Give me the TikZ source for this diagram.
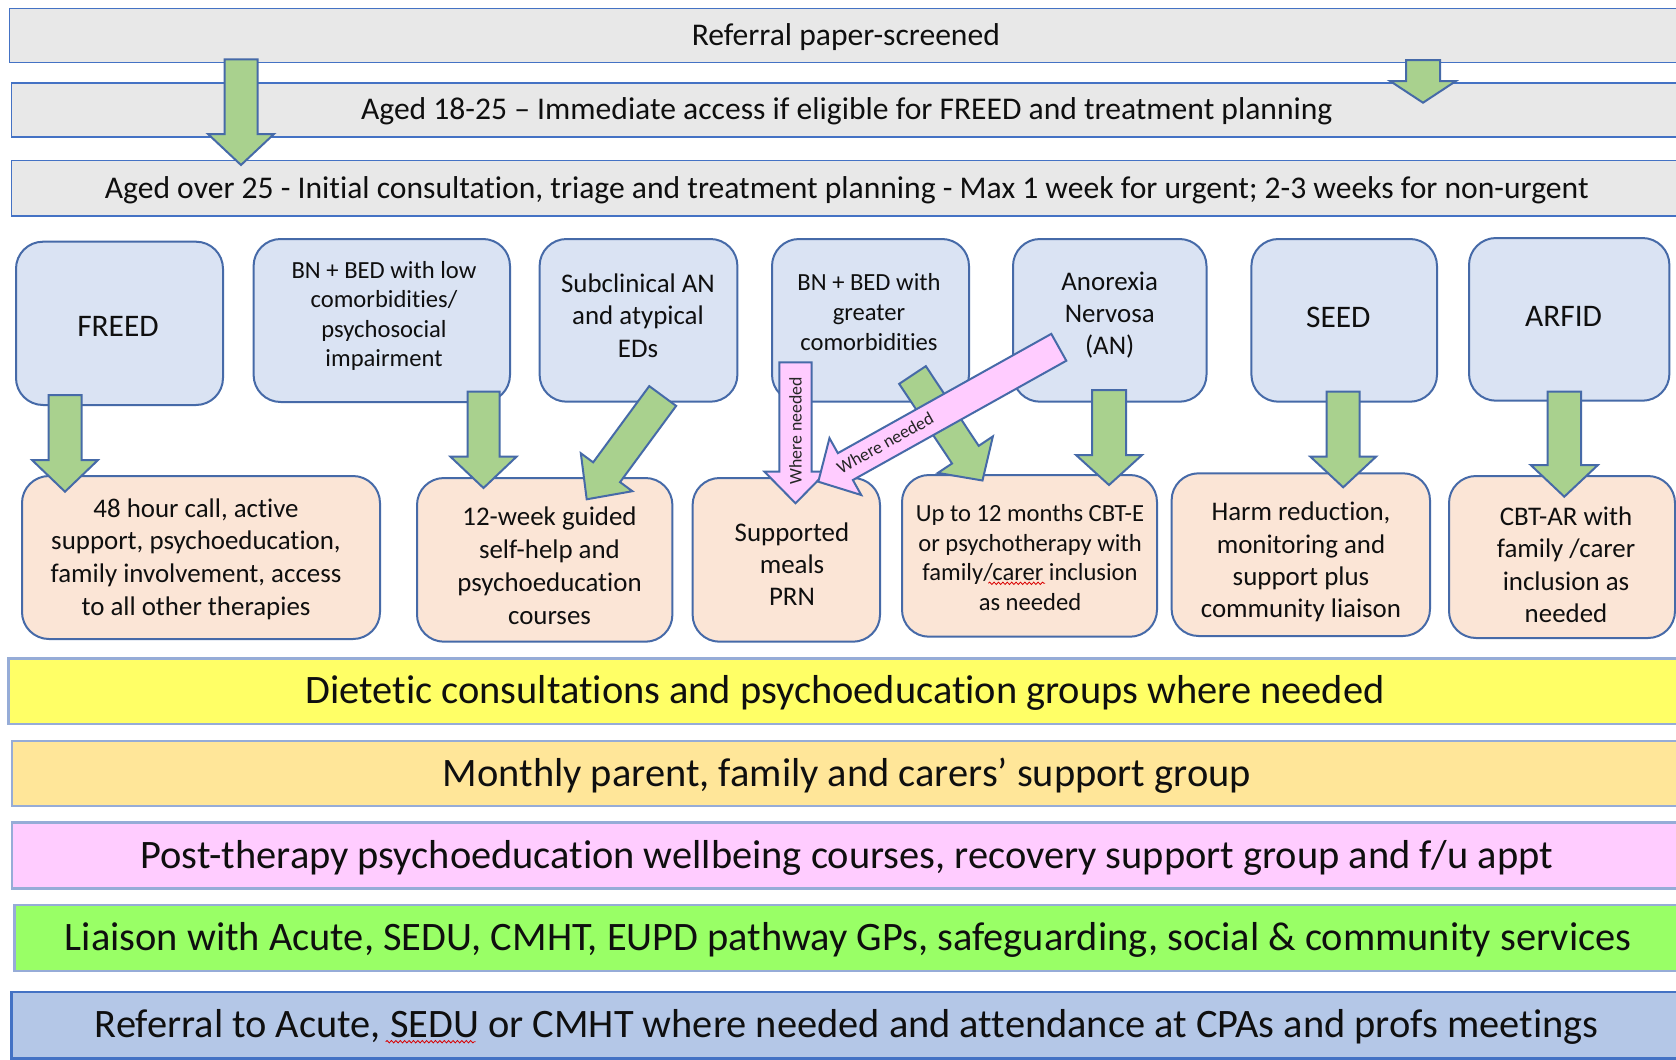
\documentclass[tikz,border=0pt]{standalone}
\usepackage{fontspec}
\setmainfont{Carlito}[Ligatures={NoCommon,NoContextual,NoRare}, RawFeature={-liga;-clig;-calt;-dlig}]
\usetikzlibrary{calc,fit,decorations.pathmorphing}
\definecolor{bord}{RGB}{70,106,168}
\definecolor{barblue}{RGB}{68,114,196}
\definecolor{barfill}{RGB}{232,232,232}
\definecolor{boxblue}{RGB}{218,227,243}
\definecolor{peach}{RGB}{251,229,214}
\definecolor{garrow}{RGB}{169,209,142}
\definecolor{pinkc}{RGB}{255,204,255}
\definecolor{lbord}{RGB}{150,172,215}
\definecolor{ybar}{RGB}{255,255,102}
\definecolor{obar}{RGB}{255,230,153}
\definecolor{pbar}{RGB}{255,204,255}
\definecolor{gbarc}{RGB}{153,255,102}
\definecolor{bbar}{RGB}{180,199,231}
\definecolor{txtc}{RGB}{15,15,15}
\newcommand\blockarrow[6]{%
  \coordinate (#2-#3-base) at ($(#3)!#6!(#2)$);
  \draw[#1] ($(#2)!#4!90:(#3)$) -- ($(#2-#3-base)!#4!90:(#3)$) -- ($(#2-#3-base)!#5!90:(#3)$) -- (#3) -- ($(#2-#3-base)!#5!-90:(#3)$) -- ($(#2-#3-base)!#4!-90:(#3)$) -- ($(#2)!#4!-90:(#3)$) -- cycle;}
\begin{document}
\begin{tikzpicture}[x=0.5pt,y=-0.5pt,
  gbar/.style={draw=barblue, line width=0.75pt, fill=barfill, inner sep=0pt},
  rbox/.style={draw=bord, line width=1pt, rounded corners=13.5pt, inner sep=0pt},
  bluebox/.style={rbox, fill=boxblue},
  peachbox/.style={rbox, fill=peach},
  lbar/.style={draw=lbord, line width=1.2pt, inner sep=0pt},
  txt/.style={inner sep=0pt, align=center, text=txtc},
  s11/.style={txt, font=\fontsize{12.3}{14.9}\selectfont},
  s12/.style={txt, font=\fontsize{13.45}{16.3}\selectfont},
  s14/.style={txt, font=\fontsize{15.7}{19}\selectfont},
  bartxt/.style={txt, font=\fontsize{15.8}{19}\selectfont, text height=9.98pt, text depth=0pt},
  bigtxt/.style={txt, font=\fontsize{20.2}{24}\selectfont, text height=12.77pt, text depth=0pt},
  wn/.style={txt, font=\fontsize{8.9}{10}\selectfont, text=black!85},
  greenarrow/.style={draw=bord, line width=1pt, fill=garrow},
  pinkarrow/.style={draw=bord, line width=1pt, fill=pinkc},
  squig/.style={draw=red!85!black, line width=0.4pt, decorate, decoration={snake, amplitude=0.6pt, segment length=2.2pt}}
]
\clip (0,0) rectangle (1676,1060);
\fill[white] (0,0) rectangle (1676,1060);

% top bars
\node[gbar, fit={(9.6,8.3)(1682,62.3)}] (bar1) {};
\node[bartxt] (bar1t) at (bar1.center) {Referral paper-screened};
\node[gbar, fit={(11.5,83)(1682,137)}] (bar2) {};
\node[bartxt] (bar2t) at (bar2.center) {Aged 18-25 – Immediate access if eligible for FREED and treatment planning};
\node[gbar, fit={(11.5,160.7)(1682,216)}] (bar3) {};
\node[bartxt] (bar3t) at (bar3.center) {Aged over 25 - Initial consultation, triage and treatment planning - Max 1 week for urgent; 2-3 weeks for non-urgent};

% blue boxes
\node[bluebox, fit={(16,241.7)(223,405)}] (freed) {};
\node[s14] (freedt) at (118,326.7) {FREED};
\node[bluebox, fit={(253.6,239)(510,402)}] (bnlow) {};
\node[s11, font=\fontsize{12.3}{14.8}\selectfont] (bnlowt) at (384,316) {BN + BED with low\\comorbidities/\\psychosocial\\impairment};
\node[bluebox, fit={(539.6,239)(737.4,401.7)}] (subcl) {};
\node[s12] (subclt) at (638,315.7) {Subclinical AN\\and atypical\\EDs};
\node[bluebox, fit={(772,239)(969,401.7)}] (bngr) {};
\node[s11, font=\fontsize{12.3}{15}\selectfont] (bngrt) at (869,312) {BN + BED with\\greater\\comorbidities};
\node[bluebox, fit={(1013,239)(1206.5,401.7)}] (anor) {};
\node[s12, font=\fontsize{13.45}{16}\selectfont] (anort) at (1109.7,315) {Anorexia\\Nervosa\\(AN)};
\node[bluebox, fit={(1251.4,239)(1437,401.7)}] (seed) {};
\node[s14] (seedt) at (1338.3,317) {SEED};
\node[bluebox, fit={(1469,238)(1669.4,400.7)}] (arfid) {};
\node[s14] (arfidt) at (1563.6,316) {ARFID};

% peach boxes
\node[peachbox, fit={(22,476)(380,639)}] (b48) {};
\node[s12, font=\fontsize{13.45}{16.35}\selectfont] (b48t) at (196,559) {48 hour call, active\\support, psychoeducation,\\family involvement, access\\to all other therapies};
\node[peachbox, fit={(417,478)(672.4,641.7)}] (b12) {};
\node[s12, font=\fontsize{13.45}{16.5}\selectfont] (b12t) at (549.5,566.2) {12-week guided\\self-help and\\psychoeducation\\courses};
\node[peachbox, fit={(692.6,478)(880,641.7)}] (meal) {};
\node[s12, font=\fontsize{13.45}{16}\selectfont] (mealt) at (792,564.5) {Supported\\meals\\PRN};
\node[peachbox, fit={(902,475)(1157,636.7)}] (up12) {};
\node[s11, font=\fontsize{12.3}{14.85}\selectfont] (up12t) at (1030,557.6) {Up to 12 months CBT-E\\or psychotherapy with\\family/carer inclusion\\as needed};
\node[peachbox, fit={(1171.6,473.3)(1430,636)}] (harm) {};
\node[s12, font=\fontsize{13.45}{16.1}\selectfont] (harmt) at (1301,562) {Harm reduction,\\monitoring and\\support plus\\community liaison};
\node[peachbox, fit={(1449,476)(1675,638)}] (cbt) {};
\node[s12, font=\fontsize{13.45}{16.2}\selectfont] (cbtt) at (1566,564.6) {CBT-AR with\\family /carer\\inclusion as\\needed};

% arrow ends
\coordinate (t1s) at (241,59.3);   \coordinate (t1e) at (241,165);
\coordinate (t2s) at (1423,60);    \coordinate (t2e) at (1423,102.7);
\coordinate (fs) at (65,395);      \coordinate (fe) at (65,491.7);
\coordinate (ls) at (483.5,391.7); \coordinate (le) at (483.5,488);
\coordinate (ss) at (662.7,396);   \coordinate (se) at (586.7,499.3);
\coordinate (gs) at (912.5,375);   \coordinate (ge) at (982.5,480.5);
\coordinate (as) at (1109,390);    \coordinate (ae) at (1109,485);
\coordinate (es) at (1343.2,391.7);\coordinate (ee) at (1343.2,487.3);
\coordinate (rs) at (1564.3,391.7);\coordinate (re) at (1564.3,496.7);
\coordinate (pvs) at (795.5,362.3);\coordinate (pve) at (795.5,503.3);
\coordinate (pds) at (1058.8,347.3);\coordinate (pde) at (818.3,481.7);

\blockarrow{greenarrow}{t1s}{t1e}{8.25pt}{16.5pt}{15.5pt}
\blockarrow{greenarrow}{t2s}{t2e}{8.5pt}{16.5pt}{10.85pt}
\blockarrow{greenarrow}{fs}{fe}{8.25pt}{16.5pt}{15.85pt}
\blockarrow{greenarrow}{ls}{le}{8pt}{16.5pt}{15.65pt}
\blockarrow{greenarrow}{ss}{se}{8.35pt}{16pt}{16.8pt}
\blockarrow{greenarrow}{gs}{ge}{8pt}{16.5pt}{15.5pt}
\blockarrow{greenarrow}{as}{ae}{8.5pt}{16.5pt}{15pt}
\blockarrow{greenarrow}{es}{ee}{8.25pt}{16.4pt}{15.3pt}
\blockarrow{greenarrow}{rs}{re}{8.4pt}{16.8pt}{15.85pt}
\blockarrow{pinkarrow}{pvs}{pve}{8.1pt}{15.5pt}{15.8pt}
\blockarrow{pinkarrow}{pds}{pde}{7.7pt}{16.3pt}{15.5pt}
\node[wn, rotate=90] (pvt) at (795.5,430.8) {Where needed};
\node[wn, rotate=29.2] (pdt) at (885,443) {Where needed};

% bottom bars
\node[lbar, fill=ybar, fit={(8.3,658.3)(1682,724)}] (diet) {};
\node[bigtxt] (dietT) at (diet.center) {Dietetic consultations and psychoeducation groups where needed};
\node[lbar, fill=obar, fit={(11.7,741)(1682,805.7)}] (month) {};
\node[bigtxt] (monthT) at (month.center) {Monthly parent, family and carers’ support group};
\node[lbar, fill=pbar, fit={(11.7,822.3)(1682,888.3)}] (post) {};
\node[bigtxt] (postT) at (post.center) {Post-therapy psychoeducation wellbeing courses, recovery support group and f/u appt};
\node[lbar, fill=gbarc, fit={(14.3,905)(1682,970.7)}] (liai) {};
\node[bigtxt] (liaiT) at (liai.center) {Liaison with Acute, SEDU, CMHT, EUPD pathway GPs, safeguarding, social \& community services};
\node[lbar, draw=barblue, fill=bbar, fit={(11.4,991.7)(1682,1058.3)}] (refe) {};
\node[bigtxt] (refeT) at (refe.center) {Referral to Acute, SEDU or CMHT where needed and attendance at CPAs and profs meetings};

% spell-check squiggles
\draw[squig] (988.3,583.3) -- (1045,583.3);
\draw[squig] (385.7,1041.7) -- (475.7,1041.7);
\end{tikzpicture}
\end{document}
